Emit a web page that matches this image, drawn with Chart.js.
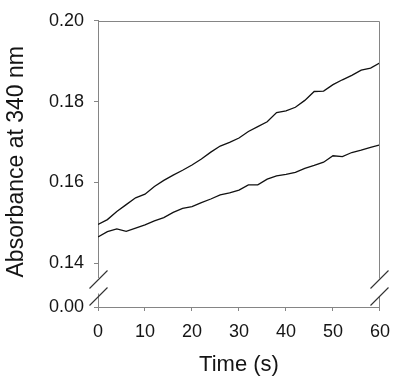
<!DOCTYPE html>
<html>
<head>
<meta charset="utf-8">
<script src="https://cdn.jsdelivr.net/npm/chart.js@4.4.1/dist/chart.umd.min.js"></script>
<style>
  html, body { margin: 0; padding: 0; background: #fff; }
  #wrap { width: 400px; height: 383px; }
</style>
</head>
<body>
<div id="wrap"><canvas id="chart" width="400" height="383"></canvas></div>
<script>
const TIMES = [0, 2, 4, 6, 8, 10, 12, 14, 16, 18, 20, 22, 24, 26, 28, 30,
  32, 34, 36, 38, 40, 42, 44, 46, 48, 50, 52, 54, 56, 58, 60];

const UPPER_TRACE = [0.1496, 0.1508, 0.1528, 0.1545, 0.1562, 0.1571, 0.1590, 0.1605,
  0.1618, 0.1630, 0.1643, 0.1658, 0.1675, 0.1690, 0.1699, 0.1710, 0.1726, 0.1738,
  0.1750, 0.1773, 0.1777, 0.1786, 0.1803, 0.1825, 0.1826, 0.1842, 0.1854, 0.1865,
  0.1878, 0.1883, 0.1896];

const LOWER_TRACE = [0.1465, 0.1478, 0.1485, 0.1479, 0.1487, 0.1495, 0.1505, 0.1513,
  0.1526, 0.1536, 0.1540, 0.1550, 0.1559, 0.1569, 0.1574, 0.1581, 0.1594, 0.1594,
  0.1608, 0.1616, 0.1620, 0.1625, 0.1635, 0.1642, 0.1650, 0.1666, 0.1664, 0.1674,
  0.1680, 0.1687, 0.1693];

const UPPER_TICKS = [0.14, 0.16, 0.18, 0.20];
const LOWER_TICKS = [0.00];
const X_TICKS = [0, 10, 20, 30, 40, 50, 60];

const AXIS_GREY = "#858585";
const INK = "#151515";

Chart.defaults.font.family = '"Liberation Sans", Arial, sans-serif';
Chart.defaults.color = INK;

// the y axis is broken: upper band 0.14-0.20, lower stub just holds 0.00
const breakMarks = {
  id: "breakMarks",
  afterDraw(chart) {
    const { ctx, chartArea } = chart;
    const split = chart.scales.yb.top;
    const l = Math.round(chartArea.left) + 0.5;
    const r = Math.round(chartArea.right) - 0.5;
    const top = Math.round(chart.scales.y.getPixelForValue(0.20)) + 0.5;
    const bottom = Math.round(chartArea.bottom);
    ctx.save();
    ctx.lineWidth = 1;
    ctx.strokeStyle = AXIS_GREY;
    ctx.beginPath();
    ctx.moveTo(l, top); ctx.lineTo(r, top);
    ctx.moveTo(r, top); ctx.lineTo(r, split + 1);
    ctx.moveTo(l, split + 16); ctx.lineTo(l, bottom);
    ctx.moveTo(r, split + 19); ctx.lineTo(r, bottom + 4);
    ctx.stroke();

    ctx.strokeStyle = "#333";
    ctx.lineWidth = 1.1;
    ctx.beginPath();
    for (const x of [l, r]) {
      for (const dy of [2, 19]) {
        ctx.moveTo(x - 9, split + dy + 9);
        ctx.lineTo(x + 9, split + dy - 9);
      }
    }
    ctx.stroke();
    ctx.restore();
  },
};

function pts(values) {
  return TIMES.map((t, i) => ({ x: t, y: values[i] }));
}

const tickGrid = {
  display: true,
  drawOnChartArea: false,
  drawTicks: true,
  tickLength: 4,
  color: AXIS_GREY,
  tickColor: AXIS_GREY,
};

new Chart(document.getElementById("chart"), {
  type: "line",
  data: {
    datasets: [
      { data: pts(UPPER_TRACE), yAxisID: "y" },
      { data: pts(LOWER_TRACE), yAxisID: "y" },
    ].map((d) => ({
      ...d,
      borderColor: "#111",
      borderWidth: 1.3,
      pointRadius: 0,
      tension: 0,
      fill: false,
    })),
  },
  plugins: [breakMarks],
  options: {
    responsive: false,
    animation: false,
    layout: { padding: { left: 0, top: 16, right: 18, bottom: 0 } },
    plugins: { legend: { display: false }, tooltip: { enabled: false } },
    scales: {
      x: {
        type: "linear",
        min: 0,
        max: 60,
        afterBuildTicks: (s) => { s.ticks = X_TICKS.map((v) => ({ value: v })); },
        afterFit: (s) => { s.height = 76; },
        ticks: { font: { size: 18 }, padding: 10, color: INK, maxRotation: 0 },
        grid: tickGrid,
        border: { display: true, color: AXIS_GREY },
        title: {
          display: true,
          text: "Time (s)",
          font: { size: 22 },
          color: INK,
          padding: { top: 0, bottom: 5 },
        },
      },
      yb: {
        type: "linear",
        position: "left",
        stack: "broken",
        stackWeight: 30,
        min: 0,
        max: 0.0073,
        afterBuildTicks: (s) => { s.ticks = LOWER_TICKS.map((v) => ({ value: v })); },
        afterFit: (s) => { s.width = 98; },
        ticks: { font: { size: 18 }, padding: 10, color: INK, callback: (v) => v.toFixed(2) },
        grid: tickGrid,
        border: { display: false },
      },
      y: {
        type: "linear",
        position: "left",
        stack: "broken",
        stackWeight: 261,
        min: 0.13647,
        max: 0.20,
        afterBuildTicks: (s) => { s.ticks = UPPER_TICKS.map((v) => ({ value: v })); },
        afterFit: (s) => { s.width = 98; },
        ticks: { font: { size: 18 }, padding: 10, color: INK, callback: (v) => v.toFixed(2) },
        grid: tickGrid,
        border: { display: true, color: AXIS_GREY },
        title: {
          display: true,
          text: "Absorbance at 340 nm",
          align: "start",
          font: { size: 23 },
          color: INK,
          padding: { top: 3, bottom: 0 },
        },
      },
    },
  },
});
</script>
</body>
</html>
